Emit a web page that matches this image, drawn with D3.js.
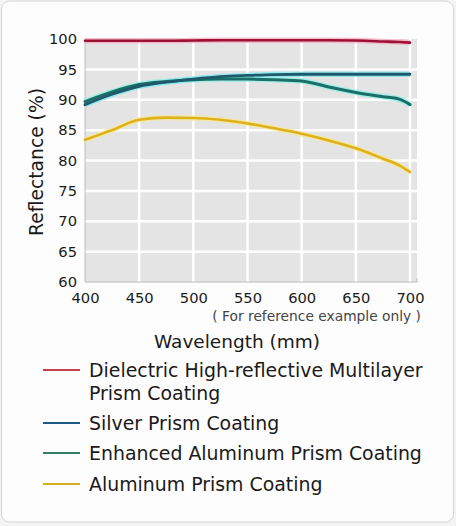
<!DOCTYPE html>
<html>
<head>
<meta charset="utf-8">
<script src="https://cdn.jsdelivr.net/npm/d3@7"></script>
<style>
  html, body { margin: 0; padding: 0; background: #f4f4f4; }
  svg { display: block; }
</style>
</head>
<body>
<svg id="chart"></svg>
<script>
// wavelengths (nm) sampled along each curve
let wavelengths = [400, 425, 450, 475, 500, 525, 550, 575, 600, 625, 650, 675, 690, 700];

// reflectance (%)
let dielectric = [99.7, 99.7, 99.7, 99.7, 99.75, 99.8, 99.8, 99.8, 99.8, 99.8, 99.75, 99.6, 99.5, 99.4];
let silver     = [89.2, 90.9, 92.2, 92.9, 93.4, 93.8, 94.0, 94.15, 94.2, 94.2, 94.2, 94.2, 94.2, 94.2];
let enhancedAl = [89.7, 91.3, 92.5, 93.0, 93.3, 93.4, 93.4, 93.3, 93.1, 92.1, 91.2, 90.5, 90.1, 89.2];
let aluminum   = [83.4, 85.0, 86.7, 87.05, 87.0, 86.7, 86.1, 85.3, 84.4, 83.3, 82.0, 80.3, 79.2, 78.1];

let xTicks = [400, 450, 500, 550, 600, 650, 700];
let yTicks = [60, 65, 70, 75, 80, 85, 90, 95, 100];

let legendLabels = [
    ['Dielectric High-reflective Multilayer', 'Prism Coating'],
    ['Silver Prism Coating'],
    ['Enhanced Aluminum Prism Coating'],
    ['Aluminum Prism Coating']
];

let width = 456;
let height = 526;
let font = '"DejaVu Sans", Verdana, sans-serif';

/*line colour, soft glow under it, legend colour*/
let series = [
    {values: dielectric, color: '#9c1237', glow: '#f7aebf', key: '#c4404f', w: 2.6},
    {values: silver,     color: '#1c5a6c', glow: '#86e8f0', key: '#1d5a86', w: 2.8},
    {values: enhancedAl, color: '#1a6f66', glow: '#95efe6', key: '#3b7a62', w: 3},
    {values: aluminum,   color: '#dcb11c', glow: '#f8e79a', key: '#d6b020', w: 2.6}
];

let svg = d3.select('#chart')
    .attr('width', width)
    .attr('height', height);

/*card behind the chart*/
svg.append('rect')
    .attr('x', 1.5).attr('y', 1)
    .attr('width', 452).attr('height', 521)
    .attr('rx', 8)
    .attr('fill', '#fdfdfd')
    .attr('stroke', '#d4d4d4');

let plot = {left: 85, right: 417, top: 39, bottom: 282};

let xScale = d3.scaleLinear()
    .domain([400, 700])
    .range([plot.left, 410]);
let yScale = d3.scaleLinear()
    .domain([60, 100])
    .range([plot.bottom, plot.top]);

/*plot background*/
svg.append('rect')
    .attr('x', plot.left).attr('y', plot.top)
    .attr('width', plot.right - plot.left)
    .attr('height', plot.bottom - plot.top)
    .attr('fill', '#e4e4e4');

/*white grid*/
svg.append('g')
    .selectAll('line')
    .data(yTicks.slice(1, -1))
    .enter()
    .append('line')
    .attr('x1', plot.left).attr('x2', plot.right)
    .attr('y1', d => yScale(d)).attr('y2', d => yScale(d))
    .attr('stroke', '#ffffff')
    .attr('stroke-width', 2.5);
svg.append('g')
    .selectAll('line')
    .data(xTicks.slice(1))
    .enter()
    .append('line')
    .attr('x1', d => xScale(d)).attr('x2', d => xScale(d))
    .attr('y1', plot.top).attr('y2', plot.bottom)
    .attr('stroke', '#ffffff')
    .attr('stroke-width', 2.5);

/*left and bottom frame*/
svg.append('path')
    .attr('d', 'M' + plot.left + ',' + plot.top + 'V' + plot.bottom + 'H' + plot.right + 'V' + (plot.bottom - 4))
    .attr('fill', 'none')
    .attr('stroke', '#bdbdbd')
    .attr('stroke-width', 1);

/*curves*/
let line = d3.line()
    .x((d, i) => xScale(wavelengths[i]))
    .y(d => yScale(d))
    .curve(d3.curveMonotoneX);

let order = [3, 2, 1, 0];
order.forEach(k => {
    let s = series[k];
    svg.append('path')
        .datum(s.values)
        .attr('d', line)
        .attr('fill', 'none')
        .attr('stroke', s.glow)
        .attr('stroke-opacity', 0.8)
        .attr('stroke-width', s.w + 2.8);
});
order.forEach(k => {
    let s = series[k];
    svg.append('path')
        .datum(s.values)
        .attr('d', line)
        .attr('fill', 'none')
        .attr('stroke', s.color)
        .attr('stroke-width', s.w)
        .attr('stroke-linecap', 'round');
});

/*axes*/
let xAxis = d3.axisBottom(xScale).tickValues(xTicks).tickSize(0).tickPadding(11);
let yAxis = d3.axisLeft(yScale).tickValues(yTicks).tickSize(0).tickPadding(8);

let gx = svg.append('g')
    .attr('transform', 'translate(0,' + plot.bottom + ')')
    .call(xAxis);
let gy = svg.append('g')
    .attr('transform', 'translate(' + plot.left + ',0)')
    .call(yAxis);
[gx, gy].forEach(g => {
    g.select('.domain').remove();
    g.selectAll('text')
        .attr('font-family', font)
        .attr('font-size', 14.7)
        .attr('fill', '#1a1a1a');
});

svg.append('text')
    .attr('transform', 'translate(43,162) rotate(-90)')
    .attr('text-anchor', 'middle')
    .attr('font-family', font)
    .attr('font-size', 18.7)
    .attr('fill', '#1a1a1a')
    .text('Reflectance (%)');

svg.append('text')
    .attr('x', 421).attr('y', 321)
    .attr('text-anchor', 'end')
    .attr('font-family', font)
    .attr('font-size', 13.8)
    .attr('fill', '#444')
    .text('( For reference example only )');

svg.append('text')
    .attr('x', 237).attr('y', 348)
    .attr('text-anchor', 'middle')
    .attr('font-family', font)
    .attr('font-size', 18.5)
    .attr('fill', '#1a1a1a')
    .text('Wavelength (mm)');

/*legend*/
let legendY = [370, 423, 453, 484];
let legend = svg.append('g');
legendLabels.forEach((lab, i) => {
    legend.append('line')
        .attr('x1', 43).attr('x2', 80)
        .attr('y1', legendY[i]).attr('y2', legendY[i])
        .attr('stroke', series[i].key)
        .attr('stroke-width', 2);
    let t = legend.append('text')
        .attr('x', 89).attr('y', legendY[i] + 6.5)
        .attr('font-family', font)
        .attr('font-size', 18.9)
        .attr('fill', '#1a1a1a');
    lab.forEach((part, j) => {
        t.append('tspan')
            .attr('x', 89)
            .attr('dy', j == 0 ? 0 : 23.5)
            .text(part);
    });
});
</script>
</body>
</html>
